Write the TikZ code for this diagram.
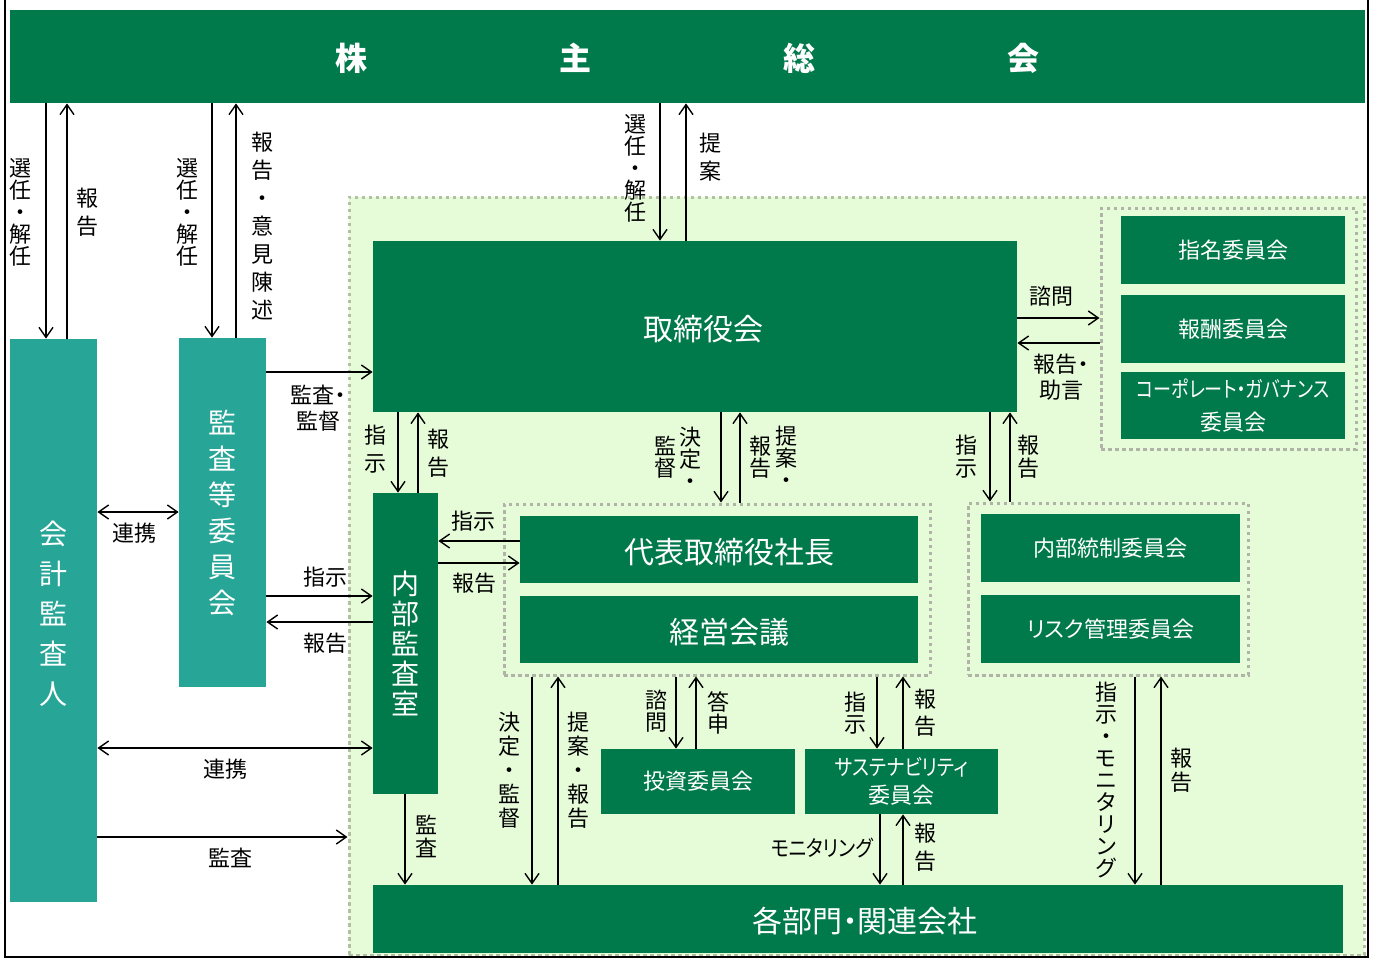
\documentclass[tikz,border=0pt]{standalone}
\usepackage{graphicx}
\usepackage{fontspec}
\setmainfont{Noto Sans CJK JP}[RawFeature=+palt]
\usetikzlibrary{arrows.meta, fit}

\definecolor{dkgreen}{RGB}{0,121,75}
\definecolor{tealbox}{RGB}{39,166,152}
\definecolor{ltgreen}{RGB}{230,252,217}
\definecolor{dotgray}{RGB}{176,180,166}
\definecolor{regdot}{RGB}{176,192,160}

\tikzset{
    >={Straight Barb[length=5pt,width=7pt]},
    conn/.style={line width=0.7pt},
    box/.style={fill=dkgreen, text=white, inner sep=0pt, align=center},
    bigbox/.style={box, font=\fontsize{15}{15}\selectfont, text height=15pt},
    tbox/.style={fill=tealbox, text=white, inner sep=0pt, align=center},
    grp/.style={draw=dotgray, line width=1.5pt, dash pattern=on 1.75pt off 1.75pt, inner sep=0pt},
    lab/.style={font=\fontsize{11}{13}\selectfont, inner sep=0pt, align=center},
    vlab/.style={font=\fontsize{11}{#1}\selectfont, inner sep=0pt, align=center},
    vlab/.default=11
}

\begin{document}
\begin{tikzpicture}[x=0.5pt, y=-0.5pt]
        \useasboundingbox (0,0) rectangle (1375,958);

        \node[grp, draw=regdot, fill=ltgreen, fit={(349,197) (1364,955)}] (region) {};

        \node[box, minimum width=677.5pt, minimum height=46.5pt, font=\fontsize{16}{16}\selectfont\bfseries, text height=16pt] (soukai) at (687.5,56.5)
            {株\hspace{96pt}主\hspace{96pt}総\hspace{96pt}会};
        \node[tbox, minimum width=43.5pt, minimum height=281.5pt, font=\fontsize{14}{20}\selectfont] (kaikei) at (53.5,620.5) {会\\計\\監\\査\\人\\[-12pt]};
        \node[tbox, minimum width=43.5pt, minimum height=174.5pt, font=\fontsize{14}{18}\selectfont] (kansa) at (222.5,512.5) {監\\査\\等\\委\\員\\会};
        \node[bigbox, minimum width=322pt, minimum height=85.5pt] (tori) at (695,326.5) {\hspace*{8pt}取締役会};
        \node[box, minimum width=32.5pt, minimum height=150.5pt, font=\fontsize{14}{15}\selectfont] (naibu) at (405.5,643.5) {内\\部\\監\\査\\室};

        % committees of the board
        \node[grp, fit={(1101,208) (1356,449)}] (iinkai) {};
        \node[box, minimum width=112pt, minimum height=34pt, font=\fontsize{11}{11}\selectfont] (shimei) at (1233,250) {指名委員会};
        \node[box, minimum width=112pt, minimum height=34pt, font=\fontsize{11}{11}\selectfont] (houshu) at (1233,329) {報酬委員会};
        \node[box, minimum width=112pt, minimum height=33.5pt, font=\fontsize{11}{16.5}\selectfont] (cg) at (1233,405.5)
            {\scalebox{0.82}[1]{コーポレート・ガバナンス}\\委員会};

        % execution
        \node[grp, fit={(504,504) (930,675)}] (shikkou) {};
        \node[bigbox, minimum width=199pt, minimum height=33.5pt] (shachou) at (719,549.5) {\hspace*{10pt}代表取締役社長};
        \node[bigbox, minimum width=199pt, minimum height=33.5pt] (keiei) at (719,629.5) {\hspace*{10pt}経営会議};

        \node[grp, fit={(968,503) (1248,675)}] (rcgrp) {};
        \node[box, minimum width=129.5pt, minimum height=34pt, font=\fontsize{11}{11}\selectfont] (naibutousei) at (1110.5,548) {内部統制委員会};
        \node[box, minimum width=129.5pt, minimum height=34pt, font=\fontsize{11}{11}\selectfont] (risk) at (1110.5,629) {リスク管理委員会};

        \node[box, minimum width=97pt, minimum height=32.5pt, font=\fontsize{11}{11}\selectfont] (toushi) at (698,781.5) {投資委員会};
        \node[box, minimum width=96.5pt, minimum height=32.5pt, font=\fontsize{11}{14}\selectfont] (sustain) at (901.5,781.5)
            {\scalebox{0.86}[1]{サステナビリティ}\\委員会};
        \node[bigbox, minimum width=485pt, minimum height=34pt] (kakubu) at (858,919) {\hspace*{7pt}各部門・関連会社};

        % vertical connectors
        \foreach \src/\dst/\x in {soukai/kaikei/46, soukai/kansa/212, soukai/tori/660, tori/naibu/398, tori/shikkou/721,
                tori/rcgrp/990, shikkou/kakubu/532, shikkou/toushi/676, shikkou/sustain/877, sustain/kakubu/880,
                rcgrp/kakubu/1135, naibu/kakubu/405} {
            \draw[conn, ->] (\src.south -| \x,0) -- (\dst.north -| \x,0);
        }
        \foreach \src/\dst/\x in {soukai/kaikei/67, soukai/kansa/236, soukai/tori/686, tori/naibu/418, tori/shikkou/740,
                tori/rcgrp/1010, shikkou/kakubu/558, shikkou/toushi/696, shikkou/sustain/903, sustain/kakubu/903,
                rcgrp/kakubu/1161} {
            \draw[conn, <-] (\src.south -| \x,0) -- (\dst.north -| \x,0);
        }

        % horizontal connectors
        \foreach \src/\dst/\y in {kansa/tori/372, kansa/naibu/596, kaikei/region/837, naibu/shachou/563, tori/iinkai/318} {
            \draw[conn, ->] (\src.east |- 0,\y) -- (\dst.west |- 0,\y);
        }
        \foreach \src/\dst/\y in {kansa/naibu/622, naibu/shachou/541, tori/iinkai/343} {
            \draw[conn, <-] (\src.east |- 0,\y) -- (\dst.west |- 0,\y);
        }
        \foreach \src/\dst/\y in {kaikei/kansa/512, kaikei/naibu/748} {
            \draw[conn, <->] (\src.east |- 0,\y) -- (\dst.west |- 0,\y);
        }

        % labels
        \foreach \n/\x/\y/\p/\txt in {v1/21/212/11/{選\\任\\・\\解\\任}, v2/87/212/14/{報\\告},
                v3/187/212/11/{選\\任\\・\\解\\任}, v4/262/226/14/{報\\告\\・\\意\\見\\陳\\述},
                v5/635/168/11/{選\\任\\・\\解\\任}, v6/710/157/14/{提\\案},
                v7/375/449/14/{指\\示}, v8/438/453/14/{報\\告},
                v9/665/457/11/{監\\督}, v10/690/458/11/{決\\定\\・},
                v11/760/457/11/{報\\告}, v12/786/457/11/{提\\案\\・},
                v13/966/457/11.5/{指\\示}, v14/1028/457/11.5/{報\\告},
                v15/426/836/11.5/{監\\査},
                v16/509/770/12/{決\\定\\・\\監\\督}, v17/578/770/12/{提\\案\\・\\報\\告},
                v18/656/711/11/{諮\\問}, v19/718/713/11/{答\\申},
                v20/855/713/11/{指\\示}, v21/925/713/13.5/{報\\告},
                v22/925/847/14/{報\\告},
                v23/1106/780/11/{指\\示\\・\\モ\\ニ\\タ\\リ\\ン\\グ}, v24/1181/770/12/{報\\告}} {
            \node[vlab=\p] (\n) at (\x,\y) {\txt};
        }
        \foreach \n/\x/\y/\txt in {h1/318/408/{監査・\\監督}, h2/134/533/連携, h3/325/577/指示, h4/325/643/報告,
                h5/225/769/連携, h6/230/858/監査, h7/473/521/指示, h8/474/583/報告,
                h9/1051/296/諮問, h10/1061/377/{報告・\\助言}, h11/822/848/{\scalebox{0.87}[1]{モニタリング}}} {
            \node[lab] (\n) at (\x,\y) {\txt};
        }

        \draw[line width=1pt] (5,0) -- (5,957) -- (1368,957) -- (1368,0);
    \end{tikzpicture}
\end{document}
